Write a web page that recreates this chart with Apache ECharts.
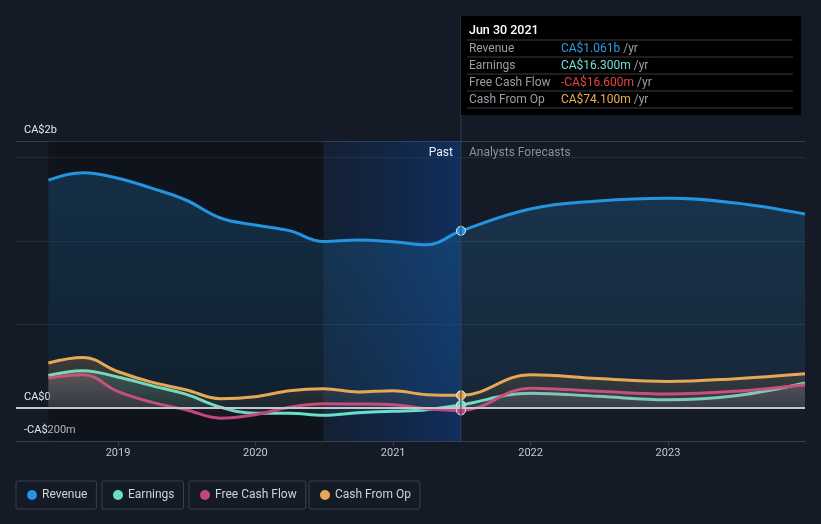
<!DOCTYPE html>
<html>
<head>
<meta charset="utf-8">
<script src="https://cdn.jsdelivr.net/npm/echarts@6/dist/echarts.min.js"></script>
<style>
html,body{margin:0;padding:0;background:#151b26;}
#c{width:821px;height:524px;}
</style>
</head>
<body>
<div id="c"></div>
<script>
// ---- data (values in CA$ millions) ----
const dates = ['2018-06-30','2018-09-30','2018-12-31','2019-03-31','2019-06-30','2019-09-30','2019-12-31',
  '2020-03-31','2020-06-30','2020-09-30','2020-12-31','2021-03-31','2021-06-30',
  '2021-12-31','2022-06-30','2022-12-31','2023-06-30','2023-12-31'];
const revenue  = [1365,1409,1377,1317,1246,1138,1096,1062,997,1006,996,978,1061,1192,1240,1257,1228,1162];
const earnings = [193,222,184,132,81,3,-33,-33,-45,-30,-22,-12,16.3,87,68,48,72,148];
const fcf      = [178,198,98,33,-12,-63,-42,2,24,22,18,-6,-16.6,117,98,82,99,138];
const cfo      = [268,301,217,153,108,54,66,102,114,94,102,78,74.1,198,175,157,174,204];
const yearTicks = ['2019-01-01','2020-01-01','2021-01-01','2022-01-01','2023-01-01'];
const yLabels = {'1600':'CA$2b','0':'CA$0','-200':'-CA$200m'};
const pastStart = '2018-06-30', lastYearStart = '2020-06-30', pastEnd = '2021-06-30';
const axisMin = '2018-04-05', axisMax = '2023-12-31';
const tipTitle = 'Jun 30 2021';
const tipRows = [
  ['Revenue','CA$1.061b','#2d9be6'],
  ['Earnings','CA$16.300m','#6fe3d0'],
  ['Free Cash Flow','-CA$16.600m','#e8443f'],
  ['Cash From Op','CA$74.100m','#e9b057']
];
const names = ['Revenue','Earnings','Free Cash Flow','Cash From Op'];
const colors = ['#2394df','#67dfc9','#c2477f','#e6a857'];
const rgb = ['35,148,223','103,223,201','194,71,127','230,168,87'];
const seriesData = [revenue, earnings, fcf, cfo];
const pastIdx = dates.indexOf(pastEnd);

const T = (s)=>Date.parse(s+'T00:00:00Z');
const chart = echarts.init(document.getElementById('c'), null, {renderer:'canvas'});
const FONT = 'Roboto, "Noto Sans", sans-serif';

function grad(c, a1, a2){
  return new echarts.graphic.LinearGradient(0,0,0,1,[{offset:0,color:'rgba('+c+','+a1+')'},{offset:1,color:'rgba('+c+','+a2+')'}]);
}

const splitColors = [];
for (let v=-200; v<=1600; v+=100){
  if (v===1600) splitColors.push('#394049');
  else if (v===500||v===1000||v===1500) splitColors.push('#272d38');
  else splitColors.push('rgba(0,0,0,0)');
}

const series = names.map((n,i)=>{
  const s = {
    name:n, type:'line', smooth:0.4, symbol:'none', showSymbol:true,
    lineStyle:{width:3,color:colors[i]}, itemStyle:{color:colors[i]},
    areaStyle:{color: i===0 ? grad(rgb[i],0.3,0.13) : grad(rgb[i],0.28,0.08)},
    z: 2+i,
    data: dates.map((d,k)=>{
      const it = {value:[T(d), seriesData[i][k]]};
      if (k===pastIdx){ it.symbol='circle'; it.symbolSize=9; it.itemStyle={color:colors[i],borderColor:'#e6e9ee',borderWidth:1}; }
      return it;
    })
  };
  return s;
});
series[0].markArea = {silent:true, data:[
  [{xAxis:T(pastStart), itemStyle:{color:'rgba(0,0,0,0.25)'}},{xAxis:T(lastYearStart)}],
  [{xAxis:T(lastYearStart), itemStyle:{color:new echarts.graphic.LinearGradient(0,0,1,0,[{offset:0,color:'rgba(10,60,130,0.15)'},{offset:1,color:'rgba(10,70,160,0.45)'}])}},{xAxis:T(pastEnd)}]
]};
series[3].markLine = {silent:true, symbol:'none', label:{show:false}, animation:false,
  lineStyle:{color:'#c2c6cd',width:2,type:'solid'}, data:[{yAxis:0}]};

const legends = [16,102,189,309].map((l,i)=>({
  data:[names[i]], left:l, top:481, orient:'horizontal', selectedMode:false,
  icon:'circle', itemWidth:10, itemHeight:10, itemGap:0,
  padding:[8,9,8,11], borderColor:'#3a404b', borderWidth:1, borderRadius:2,
  textStyle:{color:'#cfd2d8', fontSize:12, fontFamily:FONT, lineHeight:11}
}));

chart.setOption({
  backgroundColor:'#151b26',
  animation:false,
  grid:{left:16,right:16,top:141,bottom:83},
  legend: legends,
  xAxis:{type:'value', min:T(axisMin), max:T(axisMax),
    axisLine:{show:true,onZero:false,lineStyle:{color:'#3b414c',width:1}},
    axisTick:{show:true, customValues:yearTicks.map(T), length:5, lineStyle:{color:'#3b414c'}},
    axisLabel:{customValues:yearTicks.map(T), color:'#c5c8ce', fontSize:11, fontFamily:FONT, margin:7,
      formatter:(v)=>String(new Date(v).getUTCFullYear())},
    splitLine:{show:false}},
  yAxis:{type:'value', min:-200, max:1600, interval:100,
    axisLine:{show:false}, axisTick:{show:false},
    axisLabel:{inside:true, margin:8, verticalAlign:'bottom', color:'#e6e8ec', fontSize:11, fontFamily:FONT,
      padding:[0,0,5,0],
      formatter:(v)=>{const k=String(Math.round(v)); return yLabels[k]!==undefined?yLabels[k]:'';}},
    splitLine:{show:true, lineStyle:{color:splitColors,width:1}}},
  series: series
});

// overlay texts/box positioned from the axis scales
const xp = chart.convertToPixel({xAxisIndex:0}, T(pastEnd));
const yTop = chart.convertToPixel({yAxisIndex:0}, 1600);
const yBot = chart.convertToPixel({yAxisIndex:0}, -200);
const boxTop = 16, boxW = 340, boxH = 99;
const g = [];
g.push({type:'line', shape:{x1:xp,y1:boxTop,x2:xp,y2:yBot}, style:{stroke:'#34404f',lineWidth:1}, z:50, silent:true});
g.push({type:'text', x:xp-8, y:yTop+12, style:{text:'Past', fill:'#eceef1', font:'12px '+FONT, align:'right', verticalAlign:'middle'}, z:60});
g.push({type:'text', x:xp+8, y:yTop+12, style:{text:'Analysts Forecasts', fill:'#8b9099', font:'12px '+FONT, align:'left', verticalAlign:'middle'}, z:60});
g.push({type:'rect', shape:{x:xp,y:boxTop,width:boxW,height:boxH}, style:{fill:'#000000'}, z:70});
g.push({type:'text', x:xp+8, y:boxTop+15, style:{text:tipTitle, fill:'#ffffff', font:'500 12.5px '+FONT, verticalAlign:'middle'}, z:71});
for (let r=0;r<=tipRows.length;r++){
  const ly = boxTop + 24 + r*17;
  g.push({type:'line', shape:{x1:xp+6,y1:ly,x2:xp+332,y2:ly}, style:{stroke:'#3a3d42',lineWidth:1}, z:71});
}
tipRows.forEach((row,r)=>{
  const cy = boxTop + 32.5 + r*17;
  g.push({type:'text', x:xp+8, y:cy, style:{text:row[0], fill:'#9a9ea5', font:'12px '+FONT, verticalAlign:'middle'}, z:72});
  g.push({type:'text', x:xp+100, y:cy, style:{rich:{v:{fill:row[2], font:'12px '+FONT},u:{fill:'#9a9ea5',font:'12px '+FONT}}, text:'{v|'+row[1]+'}{u| /yr}', verticalAlign:'middle'}, z:72});
});
chart.setOption({graphic:g});
</script>
</body>
</html>
